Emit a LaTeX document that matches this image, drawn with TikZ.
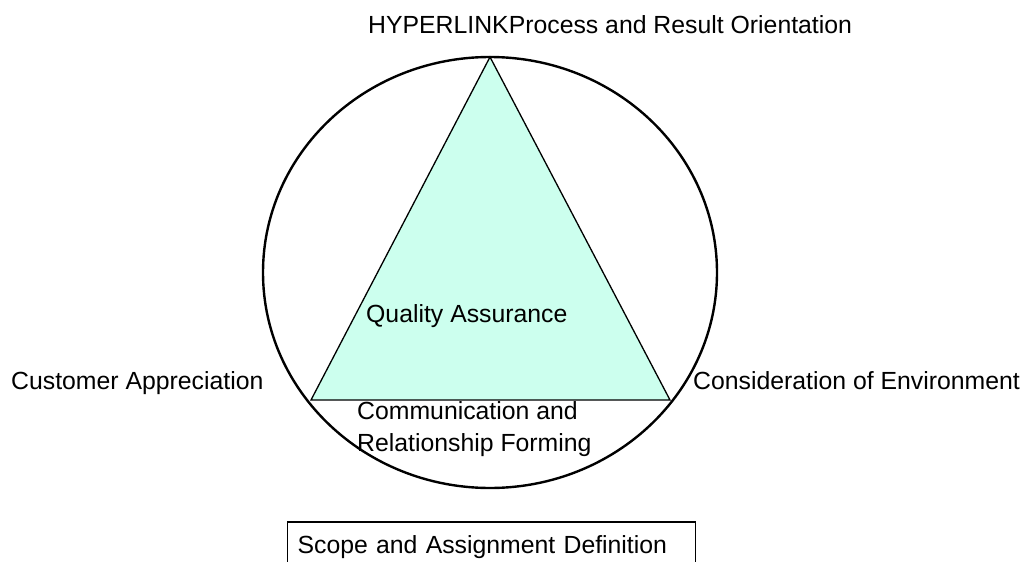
\documentclass[tikz,border=0pt]{standalone}
\usepackage{fontspec}
\setmainfont{Liberation Sans}
\definecolor{aqua}{RGB}{204,255,238}
\begin{document}
\begin{tikzpicture}[x=1pt,y=-1pt,
  txt/.style={font=\fontsize{24.8}{30}\selectfont, inner sep=0pt, anchor=base west},
  ring/.style={draw=black, line width=2.4pt},
  tri/.style={draw=black, fill=aqua, line width=1.3pt, line join=miter},
  frame/.style={draw=black, line width=1.2pt, font=\fontsize{24.8}{30}\selectfont,
    anchor=base west, inner ysep=0pt, inner xsep=10pt,
    text height=31pt, text depth=22pt, text width=388pt, align=left}]
  \clip (0,0) rectangle (1026,562);
  \useasboundingbox (0,0) rectangle (1026,562);

  % outer ring
  \draw[ring] (490,272.5) ellipse [x radius=227, y radius=215.5];

  % triangle
  \coordinate (apex) at (490,57);
  \coordinate (bl) at (311,400);
  \coordinate (br) at (670,400);
  \draw[tri] (apex) -- (br) -- (bl) -- cycle;

  % labels
  \node[txt] (top) at (368,33) {HYPERLINKProcess and Result Orientation};
  \node[txt] (qa) at (366,322) {Quality Assurance};
  \node[txt] (cust) at (11,389) {Customer Appreciation};
  \node[txt] (env) at (693,389) {Consideration of Environment};
  \node[txt] (comm1) at (357,419) {Communication and};
  \node[txt] (comm2) at (357,451) {Relationship Forming};

  % definition box, open at the lower edge
  \node[frame] (scope) at (287,553) {Scope and Assignment Definition};
\end{tikzpicture}
\end{document}
